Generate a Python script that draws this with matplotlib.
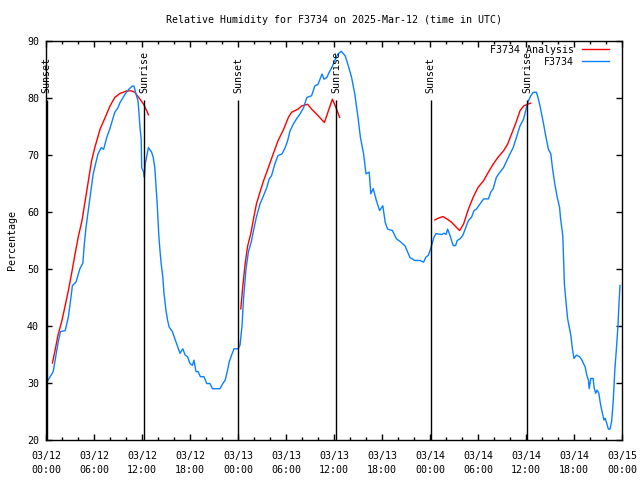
import matplotlib
matplotlib.use('Agg')
import matplotlib.pyplot as plt
import numpy as np

nan = np.nan

# Observed RH (hours since 03/12 00:00 UTC)
obs_hours = [0.0, 0.9, 1.1, 1.5, 1.8, 2.4, 2.8, 3.1, 3.3, 3.75, 4.25, 4.6, 4.8, 5.0, 5.5, 5.9,
             6.5, 6.9, 7.2, 7.6, 8.0, 8.6, 9.0, 9.25, 9.9, 10.4, 10.8, 11.0, 11.25, 11.5, 11.6,
             11.75, 11.9, 11.96, 12.2, 12.3, 12.4, 12.6, 12.8, 13.2, 13.4, 13.6, 13.75, 13.9,
             14.0, 14.1, 14.25, 14.4, 14.6, 14.75, 15.0, 15.2, 15.4, 15.8, 16.1, 16.4, 16.75,
             17.1, 17.4, 17.7, 18.0, 18.3, 18.5, 18.75, 19.0, 19.3, 19.75, 20.1, 20.5, 20.8,
             21.75, 22.1, 22.4, 22.7, 22.9, 23.2, 23.5, 24.0, 24.25, 24.5, 24.7, 25.0, 25.3,
             25.7, 25.9, 26.3, 26.75, 27.2, 27.6, 27.9, 28.2, 28.6, 29.0, 29.5, 29.9, 30.2,
             30.5, 30.9, 31.3, 31.75, 32.2, 32.6, 33.2, 33.6, 34.0, 34.5, 34.75, 35.1, 35.4,
             35.7, 36.0, 36.25, 36.5, 36.9, 37.4, 37.8, 38.2, 38.6, 39.0, 39.3, 39.7, 40.0,
             40.4, 40.6, 40.9, 41.3, 41.7, 42.1, 42.4, 42.7, 43.3, 43.8, 44.3, 44.9, 45.5,
             46.1, 46.75, 47.2, 47.5, 47.8, 48.0, 48.2, 48.5, 48.75, 49.5, 49.75, 50.0, 50.2,
             50.5, 50.9, 51.2, 51.4, 51.75, 52.1, 52.4, 52.8, 53.2, 53.5, 53.8, 54.25, 54.7,
             55.3, 55.6, 55.9, 56.3, 56.75, 57.2, 57.6, 58.0, 58.4, 58.8, 59.25, 59.7, 60.0,
             60.3, 60.6, 60.9, 61.3, 61.5, 61.8, 62.2, 62.5, 62.8, 63.1, 63.3, 63.6, 63.9,
             64.2, 64.3, 64.6, 64.8, 65.0, 65.2, 65.4, 65.6, 65.8, 66.0, 66.3, 66.7, 67.0,
             67.4, 67.6, 67.8, 67.9, 68.1, 68.4, 68.5, 68.7, 68.9, 69.1, 69.3, 69.5, 69.75,
             69.9, 70.1, 70.3, 70.5, 70.7, 70.9, 71.1, 71.3, 71.5, 71.6, 71.75]
obs_rh = [29.9, 32.0, 33.7, 37.0, 39.0, 39.2, 41.6, 44.8, 47.1, 47.7, 50.1, 51.0, 54.5, 57.3, 62.6, 66.7,
          70.2, 71.3, 71.0, 73.1, 74.7, 77.5, 78.3, 79.2, 80.7, 81.6, 82.1, 82.1, 80.7, 79.5, 77.8,
          74.8, 72.8, 67.8, 67.0, 66.1, 68.4, 69.9, 71.3, 70.5, 69.6, 67.8, 64.6, 61.4,
          58.5, 55.9, 53.2, 50.9, 48.6, 45.7, 42.7, 41.0, 39.8, 39.0, 37.8, 36.6, 35.2,
          36.0, 34.9, 34.6, 33.4, 33.1, 34.0, 32.0, 32.0, 31.1, 31.1, 29.9, 29.9, 29.0,
          29.0, 29.9, 30.5, 32.3, 33.7, 34.9, 36.0, 36.0, 36.6, 40.0, 45.0, 50.0, 53.0,
          55.0, 56.5, 59.1, 61.4, 62.9, 64.3, 65.8, 66.4, 68.4, 69.9, 70.2, 71.3, 72.5,
          74.2, 75.4, 76.3, 77.2, 78.3, 80.1, 80.4, 82.1, 82.4, 84.2, 83.3, 83.6, 84.5,
          85.3, 86.2, 87.1, 87.7, 88.2, 87.4, 85.6, 83.6, 80.7, 76.6, 73.1, 70.2, 66.7,
          67.0, 63.2, 64.1, 62.0, 60.25, 61.1, 58.2, 57.0, 56.75, 55.3, 54.8, 54.0, 52.0,
          51.5, 51.5, 51.2, 52.1, 52.4, 53.25, 54.1, 55.6, 56.2, 56.05, 56.3, 56.05, 57.0,
          55.9, 54.1, 54.1, 55.0, 55.3, 55.9, 57.0, 58.5, 59.1, 60.25, 60.5, 61.4, 62.3,
          62.3, 63.5, 64.1, 66.1, 67.0, 67.8, 69.0, 70.2, 71.3, 73.1, 75.1, 76.3, 78.0,
          79.5, 80.4, 81.0, 81.0, 80.1, 78.3, 75.4, 73.1, 71.0, 70.2, 67.8, 64.9, 62.6,
          60.8, 59.1, 55.8, 47.4, 44.2, 41.3, 39.8, 38.4, 36.0, 34.3, 34.9, 34.6, 34.0,
          32.8, 31.4, 30.5, 29.0, 30.8, 30.8, 29.3, 28.2, 28.75, 28.2, 26.4, 25.0, 23.5,
          23.8, 22.9, 21.9, 21.9, 23.2, 26.7, 32.25, 36.0, 40.1, 43.3, 47.1]

# Analysis RH (NaN separates daytime segments)
ana_hours = [0.8, 1.1, 1.5, 2.0, 2.4, 2.8, 3.2, 3.6, 4.0, 4.5, 4.9, 5.3, 5.7, 6.1, 6.75, 7.4, 8.0,
             8.6, 9.25, 10.1, 10.7, 11.1, 11.75, 12.2, 12.6, 12.8, nan,
             24.35, 24.6, 24.9, 25.2, 25.6, 25.9, 26.3, 26.75, 27.2, 27.8, 28.4, 29.0, 29.7,
             30.3, 30.7, 31.5, 31.95, 32.7, 33.2, 33.8, 34.8, 35.3, 35.8, 36.25, 36.7, nan,
             48.6, 49.0, 49.6, 50.1, 50.7, 51.1, 51.7, 52.2, 52.8, 53.4, 54.0, 54.7, 55.3,
             55.9, 56.5, 57.2, 57.7, 58.2, 58.75, 59.25, 59.7, 60.2, 60.6]
ana_rh = [33.5, 35.5, 38.4, 41.0, 43.6, 46.25, 49.2, 52.4, 55.4, 58.5, 62.0, 65.5, 69.0, 71.3, 74.5, 76.6, 78.6,
          80.1, 80.8, 81.25, 81.25, 81.0, 79.8, 78.9, 77.75, 77.05, nan,
          43.0, 47.0, 51.0, 54.0, 56.2, 58.5, 61.4, 63.5, 65.5, 67.8, 70.2, 72.5, 74.5,
          76.6, 77.5, 78.05, 78.6, 78.9, 78.05, 77.2, 75.7, 77.75, 79.8, 78.3, 76.6, nan,
          58.6, 58.9, 59.2, 58.8, 58.2, 57.6, 56.75, 57.9, 60.5, 62.6, 64.3, 65.5, 67.0,
          68.4, 69.6, 70.75, 71.9, 73.7, 75.7, 77.75, 78.6, 78.9, 79.1]

sun_hours = [0.08, 12.28, 24.04, 36.25, 48.08, 60.16]
sun_labels = ['Sunset', 'Sunrise', 'Sunset', 'Sunrise', 'Sunset', 'Sunrise']

tick_hours = [0, 6, 12, 18, 24, 30, 36, 42, 48, 54, 60, 66, 72]
tick_labels = ['03/12\n00:00', '03/12\n06:00', '03/12\n12:00', '03/12\n18:00',
               '03/13\n00:00', '03/13\n06:00', '03/13\n12:00', '03/13\n18:00',
               '03/14\n00:00', '03/14\n06:00', '03/14\n12:00', '03/14\n18:00',
               '03/15\n00:00']
y_ticks = [20, 30, 40, 50, 60, 70, 80, 90]

FS = 7.2
plt.rcParams['font.family'] = ['DejaVu Sans Mono']
plt.rcParams['font.size'] = FS

fig = plt.figure(figsize=(6.4, 4.8), dpi=100)
ax = fig.add_axes([46/640, 1-440/480, 576/640, 399/480])

ax.plot(ana_hours, ana_rh, color='#ff0000', lw=1.0, label='F3734 Analysis')
ax.plot(obs_hours, obs_rh, color='#0a80ff', lw=1.0, label='F3734')

ax.vlines(sun_hours, 20, 79.7, colors='black', lw=1.0)
for h, lab in zip(sun_hours, sun_labels):
    ax.text(h, 80.8, lab, rotation=90, ha='center', va='bottom', fontsize=FS)

ax.set_xlim(0, 72)
ax.set_ylim(20, 90)
ax.set_xticks(tick_hours)
ax.set_xticklabels(tick_labels)
ax.set_xticks(np.arange(0, 73, 2), minor=True)
ax.set_yticks(y_ticks)
for lbl in ax.get_xticklabels():
    lbl.set_linespacing(1.45)
ax.tick_params(axis='y', which='major', direction='in', length=4, width=1,
               right=True, labelsize=FS, pad=5)
ax.tick_params(axis='x', which='major', direction='in', length=4, width=1,
               top=True, labelsize=FS, pad=8)
ax.tick_params(axis='x', which='minor', direction='in', length=2, width=1, top=True)
for s in ax.spines.values():
    s.set_linewidth(1.0)

ax.set_ylabel('Percentage', fontsize=FS, va='center')
ax.yaxis.set_label_coords((12-46)/576, 0.5)
fig.text(334/640, 1-20/480, 'Relative Humidity for F3734 on 2025-Mar-12 (time in UTC)',
         ha='center', va='center', fontsize=FS)

ax.legend(loc='upper right', bbox_to_anchor=((609-46)/576, 1-4/400), frameon=False,
          markerfirst=False, handlelength=2.7, handletextpad=0.8, labelspacing=0.2,
          borderpad=0, borderaxespad=0, fontsize=FS)

fig.savefig('out.png', dpi=100)
